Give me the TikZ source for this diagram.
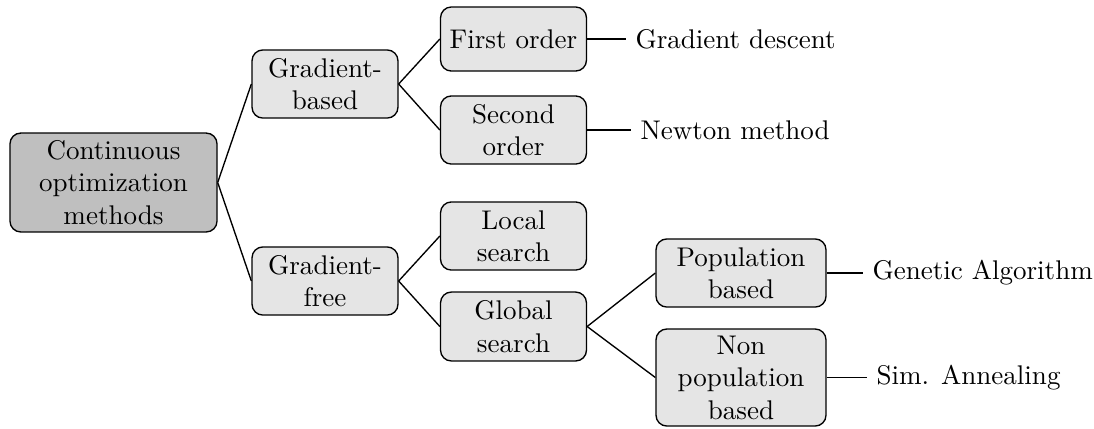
\documentclass[tikz,border=0pt]{standalone}
\usetikzlibrary{positioning}
\begin{document}
\begin{tikzpicture}[x=0.37pt,y=-0.37pt,
  box/.style={draw, rounded corners=4pt, fill=gray!20, align=center, inner sep=2pt, line width=0.5pt},
  rootbox/.style={box, fill=gray!50, minimum width=76.6pt, minimum height=36.6pt},
  midbox/.style={box, minimum width=54pt, minimum height=25.2pt},
  bigbox/.style={box, minimum width=62.9pt},
  leaf/.style={anchor=west, inner sep=3.33pt},
  edge/.style={line width=0.5pt}]
\useasboundingbox (0,0) rectangle (1094,428);
\node[rootbox] (root) at (113.5,182.5) {Continuous\\optimization\\methods};
\node[midbox] (gb) at (325,84) {Gradient-\\based};
\node[midbox] (gf) at (325,281) {Gradient-\\free};
\node[midbox, minimum height=23.7pt] (fo) at (513.5,39) {First order};
\node[midbox] (so) at (513.5,130) {Second\\order};
\node[midbox] (ls) at (513.5,236) {Local\\search};
\node[midbox, minimum height=25.5pt] (gs) at (513.5,326.5) {Global\\search};
\node[bigbox, minimum height=25.2pt] (pb) at (741,273) {Population\\based};
\node[bigbox, minimum height=35.9pt] (np) at (741,377.5) {Non\\population\\based};
\node[leaf] (gd) at (626,39) {Gradient descent};
\node[leaf] (nm) at (631,130) {Newton method};
\node[leaf] (ga) at (863,273) {Genetic Algorithm};
\node[leaf] (sa) at (867,377.5) {Sim. Annealing};
\draw[edge] (root.east) -- (gb.west);
\draw[edge] (root.east) -- (gf.west);
\draw[edge] (gb.east) -- (fo.west);
\draw[edge] (gb.east) -- (so.west);
\draw[edge] (gf.east) -- (ls.west);
\draw[edge] (gf.east) -- (gs.west);
\draw[edge] (gs.east) -- (pb.west);
\draw[edge] (gs.east) -- (np.west);
\draw[edge] (fo.east) -- (gd.west);
\draw[edge] (so.east) -- (nm.west);
\draw[edge] (pb.east) -- (ga.west);
\draw[edge] (np.east) -- (sa.west);
\end{tikzpicture}
\end{document}
